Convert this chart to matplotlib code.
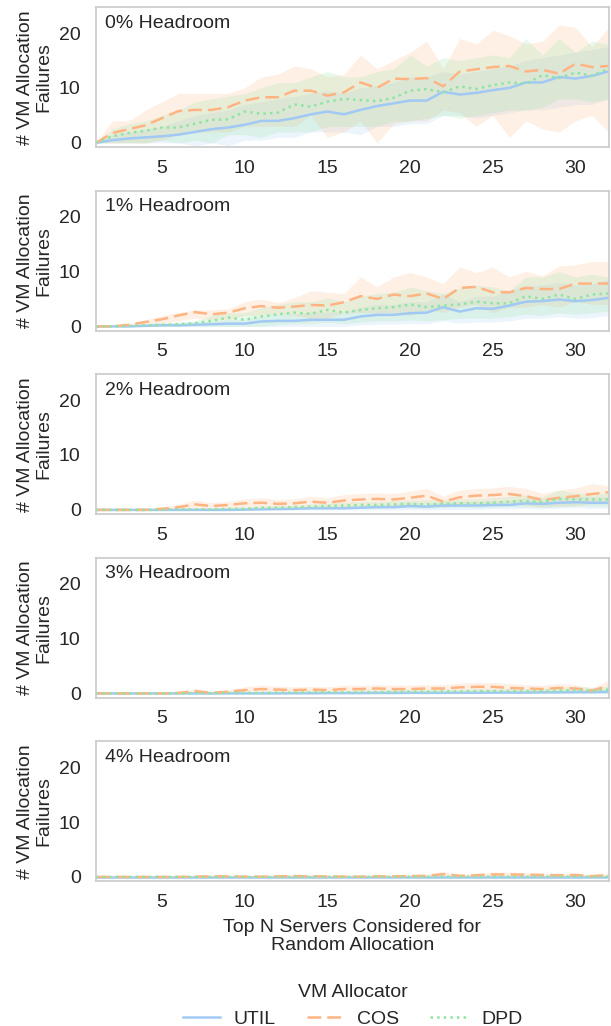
import matplotlib
matplotlib.use("Agg")
import matplotlib.pyplot as plt

# --- data ---
top_n = list(range(1, 33))
headrooms = ["0% Headroom", "1% Headroom", "2% Headroom", "3% Headroom", "4% Headroom"]
allocators = ["UTIL", "COS", "DPD"]

# 0% headroom
util_0 = [0, 0.5, 0.8, 1.0, 1.2, 1.5, 2.0, 2.5, 2.8, 3.3, 4.0, 4.0, 4.5, 5.2, 5.7, 5.2,
          6.0, 6.7, 7.2, 7.7, 7.7, 9.3, 8.8, 9.1, 9.6, 10.0, 11.0, 11.0, 12.0, 11.7, 12.2, 13.0]
util_0_lo = [0, 0, 0, 0, 0, 0, -0.5, 0, -0.5, 0.5, 0.5, 1, 1, 2, 2, 2,
             1.5, 3, 3, 3.5, 3.5, 5, 5, 4.5, 5, 5.5, 6, 6, 6.5, 7, 7, 8]
util_0_hi = [0, 1.5, 2, 2.5, 3, 4, 5, 5.5, 6, 7, 7.5, 8, 8.5, 9, 9.5, 9,
             10, 10.5, 11, 12, 12, 13, 12.5, 13, 13.5, 14, 15, 15.5, 16, 16.5, 17, 17.5]
cos_0 = [0, 1.8, 2.5, 3.2, 4.5, 5.8, 6.0, 6.0, 6.5, 7.7, 8.3, 8.3, 9.5, 9.5, 8.6, 9.2,
         11.0, 10.0, 11.7, 11.6, 11.8, 10.3, 13.0, 13.4, 13.8, 14.0, 13.0, 13.3, 12.6, 14.4, 13.8, 14.0]
cos_0_lo = [0, 0, 0, 0, 0.5, 1.5, 2, 2, 2, 3, 3, 3, 3, 5, 1, 2,
            4, 0, 3.5, 4, 4, 6, 5.5, 3, 5, 1, 4, 2.5, 2, 4, 5, 2]
cos_0_hi = [0, 4, 4, 6, 7.5, 9, 9, 9, 9, 10, 12, 12.5, 14, 13.5, 12, 12.5,
            16, 13.5, 15, 16.5, 18.5, 13.5, 19, 18, 20.5, 19.5, 18, 18.5, 21.5, 21, 17.5, 21]
dpd_0 = [0, 1.2, 1.8, 2.2, 2.8, 2.8, 3.5, 4.2, 4.3, 5.7, 5.3, 5.5, 7.0, 6.6, 7.5, 8.0,
         7.8, 7.6, 8.2, 9.5, 9.8, 9.2, 10.3, 9.8, 10.5, 11.0, 10.8, 12.3, 11.8, 12.8, 12.2, 13.5]
dpd_0_lo = [0, 0, 0, 0, 0.5, 0, 0.5, 0, 1.5, 1.5, 1, 2, 2, 2, 3, 3,
            3, 3, 4, 4, 4.5, 5, 4.5, 5, 5.5, 6, 6, 6.5, 8, 8, 7.5, 8]
dpd_0_hi = [0, 2.5, 3.5, 4, 5, 6, 7.5, 8, 8.5, 9, 10, 11, 11, 12, 13, 12,
            12, 13, 13.5, 16, 14, 15.5, 15, 15.5, 16, 15.5, 19, 16, 19, 16.5, 18.5, 18]

# 1% headroom
util_1 = [0, 0, 0, 0.1, 0.2, 0.2, 0.3, 0.4, 0.5, 0.5, 0.9, 1.0, 1.0, 1.2, 1.2, 1.2,
          1.8, 2.1, 2.1, 2.4, 2.5, 3.5, 2.7, 3.3, 3.2, 3.8, 4.5, 4.6, 4.9, 4.6, 4.8, 5.2]
util_1_lo = [0, 0, 0, 0, 0, 0, 0, 0, 0, 0, 0, 0, 0, 0, 0, 0,
             0.3, 0.4, 0.4, 0.5, 0.5, 1.0, 0.6, 0.8, 0.8, 1.0, 1.5, 1.5, 1.8, 1.5, 1.6, 2.0]
util_1_hi = [0, 0, 0, 0.3, 0.5, 0.6, 0.8, 1.0, 1.2, 1.2, 2.0, 2.2, 2.2, 2.6, 2.6, 2.6,
             3.5, 4.0, 4.0, 4.5, 4.5, 6.0, 4.5, 5.5, 5.5, 6.5, 7.5, 7.5, 8.0, 7.5, 7.8, 8.5]
cos_1 = [0, 0, 0.3, 0.8, 1.3, 2.0, 2.6, 2.2, 2.5, 3.3, 3.7, 3.4, 3.6, 3.9, 3.8, 4.4,
         5.5, 5.0, 5.8, 5.5, 6.0, 5.0, 7.0, 7.2, 6.2, 6.2, 7.0, 6.8, 6.8, 7.8, 7.8, 7.8]
cos_1_lo = [0, 0, 0, 0.3, 0.6, 1.0, 1.5, 1.2, 1.2, 2.0, 2.0, 2.2, 2.0, 1.5, 1.5, 2.5,
            2.5, 2.5, 2.5, 2.0, 3.0, 2.5, 3.5, 4.0, 2.5, 3.5, 3.5, 4.0, 3.5, 4.5, 4.0, 4.0]
cos_1_hi = [0, 0, 0.5, 1.2, 2.0, 2.5, 3.0, 3.0, 3.2, 4.5, 5.0, 4.3, 5.2, 6.5, 6.2, 6.0,
            9.0, 7.2, 9.0, 9.8, 9.0, 7.8, 10.8, 9.8, 10.8, 9.0, 10.0, 9.2, 11.0, 11.2, 11.8, 11.8]
dpd_1 = [0, 0, 0.1, 0.2, 0.3, 0.4, 0.6, 1.0, 1.6, 1.2, 1.8, 2.2, 2.5, 2.3, 3.0, 2.5,
         3.0, 3.3, 3.5, 4.0, 3.5, 3.8, 4.0, 4.5, 4.2, 4.2, 5.5, 5.0, 5.8, 5.0, 5.8, 6.0]
dpd_1_lo = [0, 0, 0, 0, 0, 0, 0, 0, 0, 0, 0, 0.3, 0.5, 0.5, 0.8, 0.5,
            0.8, 1.0, 1.0, 1.2, 1.0, 1.2, 1.5, 1.5, 1.5, 1.8, 2.2, 2.0, 2.5, 2.2, 2.5, 2.8]
dpd_1_hi = [0, 0, 0.2, 0.5, 0.7, 0.8, 1.0, 2.0, 2.5, 2.5, 3.5, 4.0, 4.5, 4.5, 5.2, 4.5,
            5.5, 6.0, 6.2, 7.2, 6.5, 6.0, 7.0, 7.5, 7.2, 6.5, 9.0, 9.0, 10.0, 9.0, 9.5, 9.0]

# 2% headroom
util_2 = [0, 0, 0, 0, 0, 0, 0, 0, 0, 0.05, 0.1, 0.15, 0.2, 0.3, 0.3, 0.3,
          0.4, 0.5, 0.5, 0.7, 0.6, 0.8, 0.8, 0.8, 0.9, 0.9, 1.2, 1.1, 1.3, 1.4, 1.3, 1.3]
util_2_lo = [0, 0, 0, 0, 0, 0, 0, 0, 0, 0, 0, 0, 0, 0, 0, 0,
             0, 0, 0, 0.1, 0, 0.1, 0.1, 0.1, 0.2, 0.2, 0.3, 0.2, 0.3, 0.4, 0.3, 0.3]
util_2_hi = [0, 0, 0, 0, 0, 0, 0, 0, 0, 0.2, 0.3, 0.4, 0.5, 0.7, 0.7, 0.7,
             0.8, 1.0, 1.0, 1.4, 1.2, 1.5, 1.5, 1.5, 1.7, 1.7, 2.2, 2.0, 2.4, 2.5, 2.4, 2.4]
cos_2 = [0, 0, 0, 0, 0.2, 0.5, 1.0, 0.7, 0.9, 1.2, 1.3, 1.1, 1.2, 1.5, 1.3, 1.7,
         1.9, 2.0, 1.9, 2.2, 2.6, 1.5, 2.3, 2.6, 2.7, 2.9, 2.5, 1.8, 2.2, 2.5, 2.9, 3.2]
cos_2_lo = [0, 0, 0, 0, 0, 0, 0.2, 0.1, 0.2, 0.4, 0.4, 0.3, 0.4, 0.5, 0.4, 0.6,
            0.7, 0.8, 0.7, 0.8, 1.2, 0.5, 0.9, 1.0, 1.1, 1.2, 0.9, 0.5, 0.7, 0.8, 1.2, 1.4]
cos_2_hi = [0, 0, 0, 0, 0.5, 1.0, 1.8, 1.3, 1.6, 2.0, 2.2, 1.9, 2.0, 2.5, 2.2, 2.8,
            3.0, 3.1, 3.0, 3.4, 3.9, 2.5, 3.6, 3.9, 4.0, 4.3, 3.9, 3.0, 3.6, 4.0, 4.8, 4.4]
dpd_2 = [0, 0, 0, 0, 0, 0.1, 0.1, 0.1, 0.2, 0.2, 0.4, 0.4, 0.5, 0.6, 0.7, 0.8,
         0.9, 0.9, 1.0, 1.1, 1.0, 1.1, 1.2, 1.2, 1.3, 1.5, 1.6, 1.4, 2.0, 1.9, 1.9, 1.9]
dpd_2_lo = [0, 0, 0, 0, 0, 0, 0, 0, 0, 0, 0.1, 0.1, 0.1, 0.2, 0.2, 0.3,
            0.3, 0.3, 0.4, 0.4, 0.3, 0.4, 0.5, 0.4, 0.5, 0.6, 0.6, 0.5, 0.6, 0.7, 0.7, 0.7]
dpd_2_hi = [0, 0, 0, 0, 0, 0.3, 0.3, 0.3, 0.5, 0.5, 0.8, 0.8, 0.9, 1.1, 1.2, 1.4,
            1.5, 1.5, 1.7, 1.8, 1.8, 1.9, 2.0, 2.0, 2.2, 2.5, 2.7, 2.4, 3.6, 3.1, 3.0, 3.0]

# 3% headroom
util_3 = [0, 0, 0, 0, 0, 0, 0, 0, 0, 0, 0, 0, 0.02, 0.02, 0.05, 0.05,
          0.05, 0.08, 0.08, 0.1, 0.1, 0.1, 0.12, 0.12, 0.15, 0.15, 0.15, 0.2, 0.2, 0.25, 0.25, 0.3]
util_3_lo = [0] * 32
util_3_hi = [0, 0, 0, 0, 0, 0, 0, 0, 0, 0, 0, 0, 0.1, 0.1, 0.15, 0.15,
             0.15, 0.2, 0.2, 0.25, 0.25, 0.25, 0.3, 0.3, 0.35, 0.35, 0.35, 0.45, 0.45, 0.55, 0.55, 0.6]
cos_3 = [0, 0, 0, 0, 0, 0.1, 0.4, 0.1, 0.3, 0.6, 0.8, 0.7, 0.6, 0.7, 0.6, 0.8,
         0.8, 0.9, 0.8, 0.8, 0.9, 0.9, 1.1, 1.2, 1.2, 1.0, 0.9, 0.8, 1.0, 0.9, 0.5, 1.4]
cos_3_lo = [0, 0, 0, 0, 0, 0, 0, 0, 0, 0.1, 0.2, 0.2, 0.1, 0.2, 0.1, 0.2,
            0.2, 0.3, 0.2, 0.2, 0.3, 0.3, 0.4, 0.4, 0.4, 0.3, 0.3, 0.2, 0.3, 0.3, 0.1, 0.5]
cos_3_hi = [0, 0, 0, 0, 0, 0.3, 0.9, 0.3, 0.7, 1.2, 1.5, 1.3, 1.2, 1.3, 1.2, 1.5,
            1.5, 1.6, 1.5, 1.5, 1.6, 1.6, 1.9, 2.0, 2.0, 1.8, 1.6, 1.5, 1.8, 1.6, 1.0, 2.4]
dpd_3 = [0, 0, 0, 0, 0, 0, 0.05, 0.05, 0.1, 0.1, 0.1, 0.15, 0.15, 0.2, 0.2, 0.2,
         0.25, 0.25, 0.3, 0.3, 0.3, 0.35, 0.35, 0.4, 0.4, 0.4, 0.4, 0.45, 0.5, 0.6, 0.5, 0.7]
dpd_3_lo = [0] * 32
dpd_3_hi = [0, 0, 0, 0, 0, 0, 0.15, 0.15, 0.3, 0.3, 0.3, 0.4, 0.4, 0.5, 0.5, 0.5,
            0.6, 0.6, 0.7, 0.7, 0.7, 0.8, 0.8, 0.9, 0.9, 0.9, 0.9, 1.0, 1.1, 1.3, 1.1, 1.4]

# 4% headroom
util_4 = [0] * 32
util_4_lo = [0] * 32
util_4_hi = [0, 0, 0, 0, 0, 0, 0, 0, 0, 0, 0, 0, 0, 0, 0, 0,
             0, 0, 0, 0.05, 0.05, 0.05, 0.05, 0.05, 0.1, 0.1, 0.1, 0.1, 0.1, 0.1, 0.1, 0.1]
cos_4 = [0, 0, 0, 0, 0, 0, 0.05, 0.1, 0.1, 0.05, 0.05, 0.1, 0.15, 0.1, 0.1, 0.05,
         0.05, 0.1, 0.1, 0.15, 0.2, 0.5, 0.2, 0.3, 0.45, 0.45, 0.4, 0.35, 0.3, 0.35, 0.15, 0.35]
cos_4_lo = [0] * 32
cos_4_hi = [0, 0, 0, 0, 0, 0, 0.15, 0.3, 0.3, 0.15, 0.15, 0.3, 0.4, 0.3, 0.3, 0.15,
            0.15, 0.3, 0.3, 0.4, 0.5, 1.0, 0.5, 0.7, 0.9, 0.9, 0.8, 0.7, 0.6, 0.7, 0.4, 0.7]
dpd_4 = [0, 0, 0, 0, 0, 0, 0, 0, 0, 0, 0, 0, 0, 0, 0.02, 0.02,
         0.02, 0.03, 0.03, 0.05, 0.05, 0.05, 0.05, 0.05, 0.05, 0.05, 0.05, 0.05, 0.05, 0.05, 0.05, 0.05]
dpd_4_lo = [0] * 32
dpd_4_hi = [0, 0, 0, 0, 0, 0, 0, 0, 0, 0, 0, 0, 0, 0, 0.05, 0.05,
            0.05, 0.1, 0.1, 0.15, 0.15, 0.15, 0.15, 0.15, 0.15, 0.15, 0.15, 0.15, 0.15, 0.15, 0.15, 0.15]

panels = [
    [(util_0, util_0_lo, util_0_hi), (cos_0, cos_0_lo, cos_0_hi), (dpd_0, dpd_0_lo, dpd_0_hi)],
    [(util_1, util_1_lo, util_1_hi), (cos_1, cos_1_lo, cos_1_hi), (dpd_1, dpd_1_lo, dpd_1_hi)],
    [(util_2, util_2_lo, util_2_hi), (cos_2, cos_2_lo, cos_2_hi), (dpd_2, dpd_2_lo, dpd_2_hi)],
    [(util_3, util_3_lo, util_3_hi), (cos_3, cos_3_lo, cos_3_hi), (dpd_3, dpd_3_lo, dpd_3_hi)],
    [(util_4, util_4_lo, util_4_hi), (cos_4, cos_4_lo, cos_4_hi), (dpd_4, dpd_4_lo, dpd_4_hi)],
]

colors = ["#a1c9f4", "#ffb482", "#8de5a1"]
styles = ["-", (0, (5.5, 2.4)), (0, (1, 1.65))]

plt.rcParams["font.family"] = ["Liberation Sans", "DejaVu Sans"]
plt.rcParams["text.color"] = "#262626"
plt.rcParams["axes.labelcolor"] = "#262626"
plt.rcParams["xtick.color"] = "#262626"
plt.rcParams["ytick.color"] = "#262626"

fig, axes = plt.subplots(5, 1, figsize=(6.11, 10.26), dpi=100, sharex=True, sharey=True)
fig.subplots_adjust(left=0.157, right=0.996, top=0.993, bottom=0.141, hspace=0.31)

handles = []
for ax, title, series in zip(axes, headrooms, panels):
    for (mean, lo, hi), c, ls, name in zip(series, colors, styles, allocators):
        ax.fill_between(top_n, lo, hi, color=c, alpha=0.2, linewidth=0)
        ln, = ax.plot(top_n, mean, color=c, linestyle=ls, linewidth=1.8, label=name)
        if ax is axes[0]:
            handles.append(ln)
    ax.text(0.018, 0.945, title, transform=ax.transAxes, ha="left", va="top", fontsize=14)
    ax.set_ylabel("# VM Allocation\nFailures", fontsize=14, labelpad=5, linespacing=1.05)
    ax.set_xlim(1, 32)
    ax.set_ylim(-0.8, 24.7)
    ax.set_xticks([5, 10, 15, 20, 25, 30])
    ax.set_yticks([0, 10, 20])
    ax.tick_params(axis="y", length=0, labelsize=14, pad=11)
    ax.tick_params(axis="x", length=0, labelsize=14, pad=9, labelbottom=True)
    for sp in ax.spines.values():
        sp.set_color("#cccccc")
        sp.set_linewidth(1.25)

axes[-1].set_xlabel("Top N Servers Considered for\nRandom Allocation", fontsize=14,
                    labelpad=6, linespacing=1.05)

fig.legend(handles=handles, labels=allocators, title="VM Allocator", loc="lower center",
           bbox_to_anchor=(0.577, -0.019), ncol=3, frameon=False, fontsize=14,
           title_fontsize=14, handlelength=1.9, handletextpad=0.7, columnspacing=1.6)

fig.savefig("out.png", dpi=100)
